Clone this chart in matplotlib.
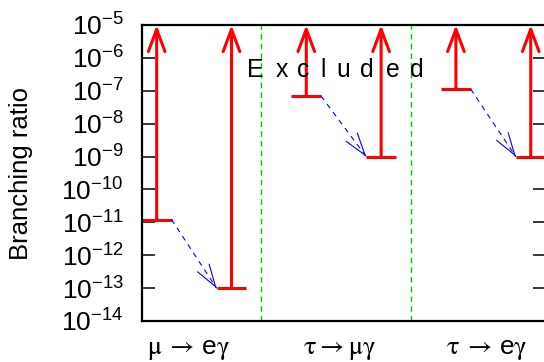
import matplotlib
matplotlib.use('Agg')
import matplotlib.pyplot as plt
import numpy as np
from matplotlib.ticker import LogLocator, NullLocator

plt.rcParams['font.family'] = ['Liberation Sans', 'DejaVu Sans']
plt.rcParams['mathtext.fontset'] = 'custom'
plt.rcParams['mathtext.rm'] = 'Liberation Sans'
plt.rcParams['mathtext.it'] = 'STIXGeneral'
plt.rcParams['mathtext.bf'] = 'STIXGeneral'
plt.rcParams['mathtext.sf'] = 'Liberation Sans'

# datos
procesos = [r'$\mu\:\mathbf{\rightarrow}\,\mathrm{e}\gamma$',
            r'$\tau{\mathbf{\rightarrow}}\mu\gamma$',
            r'$\tau\:\mathbf{\rightarrow}\,\mathrm{e}\gamma$']
limite_actual = [1.2e-11, 6.8e-8, 1.1e-7]
limite_futuro = [1e-13, 1e-9, 1e-9]
texto_excluido = 'Excluded'

fig = plt.figure(figsize=(5.44, 3.62), dpi=100)
ax = fig.add_axes([0.2605, 0.1133, 0.7426, 0.8177])

ax.set_yscale('log')
ax.set_ylim(1e-14, 1e-5)
ax.set_xlim(0.8, 6.2)

medio = 0.2
rojo = dict(arrowstyle='->,head_length=0.8,head_width=0.3', color='red',
            lw=2.2, shrinkA=0, shrinkB=0, mutation_scale=20)
linea_azul = dict(arrowstyle='-', color='blue', lw=0.8, linestyle=(0, (4, 5)),
                  shrinkA=0, shrinkB=0)
punta_azul = dict(arrowstyle='->,head_length=0.8,head_width=0.25', color='blue',
                  lw=0.8, shrinkA=0, shrinkB=0, mutation_scale=20)

for i in range(len(procesos)):
    x_act = 2 * i + 1
    x_fut = 2 * i + 2
    for x, lim in [(x_act, limite_actual[i]), (x_fut, limite_futuro[i])]:
        ax.hlines(lim, x - medio, x + medio, color='red', lw=2.2)
        ax.annotate('', xy=(x, 1e-5), xytext=(x, lim), arrowprops=rojo,
                    annotation_clip=False)
    inicio = (x_act + medio, limite_actual[i])
    fin = (x_fut - medio, limite_futuro[i])
    ax.annotate('', xy=fin, xytext=inicio, arrowprops=linea_azul,
                annotation_clip=False)
    # punta solida, misma direccion que la linea
    xs = inicio[0] + 0.98 * (fin[0] - inicio[0])
    ys = 10 ** (np.log10(inicio[1]) + 0.98 * (np.log10(fin[1]) - np.log10(inicio[1])))
    ax.annotate('', xy=fin, xytext=(xs, ys), arrowprops=punta_azul,
                annotation_clip=False)

for xs in [2.4, 4.4]:
    ax.axvline(xs, color='#00cc00', lw=1.0, dashes=(4, 3))

# letras espaciadas (desplazamiento en pixeles desde la E)
desp = [0, 26, 47.5, 67.5, 87.5, 111.5, 137.5, 161.5]
for letra, d in zip(texto_excluido, desp):
    ax.annotate(letra, xy=(2.32, 2.7e-7), xytext=(d * 0.72, 0),
                textcoords='offset points', ha='center', va='baseline',
                fontsize=17.8)

ax.yaxis.set_major_locator(LogLocator(base=10, numticks=20))
ax.yaxis.set_minor_locator(NullLocator())
ax.tick_params(axis='y', which='major', direction='in', length=9.4, width=1.1,
               right=True, labelright=False, labelsize=19, pad=13)

ax.set_xticks([1.43, 3.44, 5.41])
ax.set_xticklabels(procesos, fontsize=19)
ax.tick_params(axis='x', length=0, pad=12)

for s in ax.spines.values():
    s.set_linewidth(1.6)

fig.text(21 / 544, 1 - 173 / 362, 'Branching ratio', rotation=90,
         ha='center', va='center', fontsize=18.5)

fig.savefig('out.png', dpi=100)
